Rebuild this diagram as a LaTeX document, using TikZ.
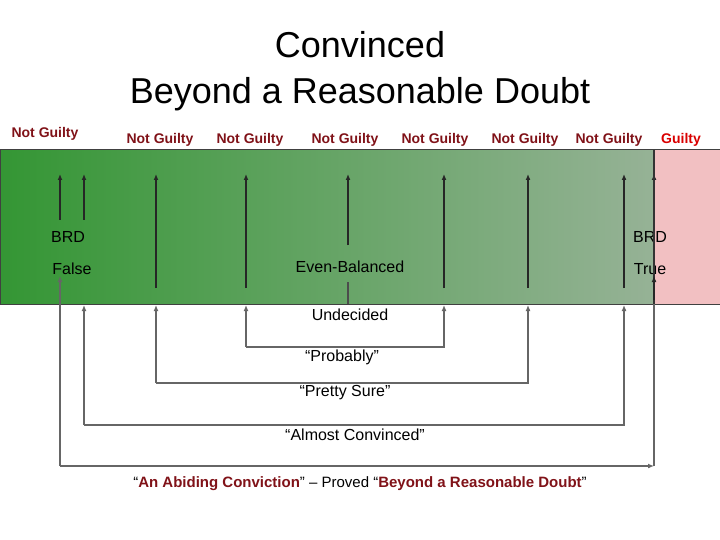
\documentclass[tikz,border=0pt]{standalone}
\usepackage{fontspec}
\usetikzlibrary{arrows.meta}
\setmainfont{Liberation Sans}
\definecolor{gl}{RGB}{52,150,52}
\definecolor{gr}{RGB}{150,178,150}
\definecolor{pk}{RGB}{242,192,194}
\definecolor{dr}{RGB}{128,18,24}
\begin{document}
\begin{tikzpicture}[x=1pt,y=-1pt,
  ng/.style={font=\bfseries\fontsize{14}{16}\selectfont,text=dr},
  lab/.style={font=\fontsize{16}{18}\selectfont},
  ar/.style={draw=black!85,line width=1.3pt,-{Latex[length=6pt,width=5pt]}},
  br/.style={draw=black!60,line width=1.2pt,-{Latex[length=6pt,width=5pt]}}]
\useasboundingbox (0,0) rectangle (720,540);
\shade[left color=gl, right color=gr] (0,150) rectangle (654,304);
\fill[pk] (654,150) rectangle (720,304);
\draw[black!75,line width=1pt] (0,150) rectangle (720,304);
\node (t1) at (360,45) {\fontsize{36}{40}\selectfont Convinced};
\node (t2) at (360,94) {\fontsize{36}{40}\selectfont Beyond a Reasonable Doubt};
\node[ng] (n0) at (45,134) {Not Guilty};
\foreach \x/\n in {160/a,250/b,345/c,435/d,525/e,609/f}
  \node[ng] (n\n) at (\x,140) {Not Guilty};
\node[ng,text=red!85!black] (g) at (681,140) {Guilty};
\node[lab] (brd1) at (68,237) {BRD};
\node[lab] (f) at (72,269) {False};
\node[lab] (brd2) at (650,237) {BRD};
\node[lab] (tr) at (650,269) {True};
\node[lab] (eb) at (350,267) {Even-Balanced};
\node[lab] (un) at (350,315) {Undecided};
\node[lab] (pr) at (342,357) {``Probably''};
\node[lab] (ps) at (345,393) {``Pretty Sure''};
\node[lab] (ac) at (355,435) {``Almost Convinced''};
\node[font=\fontsize{15}{17}\selectfont] (bt) at (360,484) {``\textbf{\textcolor{dr}{An Abiding Conviction}}'' -- Proved ``\textbf{\textcolor{dr}{Beyond a Reasonable Doubt}}''};
\foreach \x/\y in {60/220,84/220,156/288,246/288,348/245,444/288,528/288,624/288,654/288}
  \draw[ar] (\x,\y) -- (\x,174);
\draw[black!70,line width=1.2pt] (348,282) -- (348,304);
\draw[black!80,line width=1.2pt] (654,150) -- (654,304);
\draw[br] (246,347) -- (246,305);
\draw[br] (246,347) -- (444,347) -- (444,305);
\draw[br] (156,383) -- (156,305);
\draw[br] (156,383) -- (528,383) -- (528,305);
\draw[br] (84,425) -- (84,305);
\draw[br] (84,425) -- (624,425) -- (624,305);
\draw[br] (60,466) -- (60,276);
\draw[br] (60,466) -- (654,466);
\draw[black!60,line width=1.2pt] (654,466) -- (654,304);
\draw[ar] (654,300) -- (654,276);
\end{tikzpicture}
\end{document}
